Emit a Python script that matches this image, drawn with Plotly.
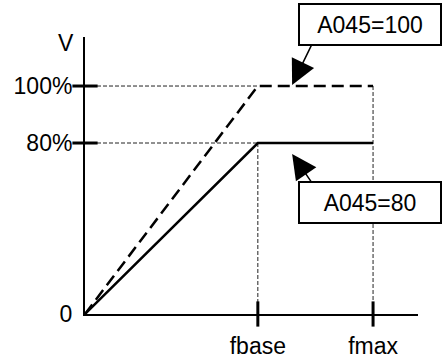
import plotly.graph_objects as go

# ---- data (schematic V/f characteristic) ----
f_positions = [0, 60, 100]            # origin, fbase, fmax (x units)
f_tick_vals = [60, 100]
f_tick_text = ["fbase", "fmax"]
v_tick_vals = [0, 75, 100]            # vertical position of levels
v_tick_text = ["0", "80%", "100%"]
v_100 = [0, 100, 100]                 # A045=100 curve
v_80 = [0, 75, 75]                    # A045=80 curve
x_axis_end = 115.6
y_axis_end = 121.5

# callouts: label, box centre, arrow tail, arrow tip
callout_text = ["A045=100", "A045=80"]
callout_box_x = [99, 99]
callout_box_y = [127.2, 49.1]
callout_tail_x = [78.8, 78.8]
callout_tail_y = [118.4, 57.5]
callout_tip_x = [71.9, 71.9]
callout_tip_y = [100.5, 70.2]

FONT = "Liberation Sans, Arial, sans-serif"
FS = 23

f0, fb, fm = f_positions
v_lo, v_hi = v_80[1], v_100[1]

fig = go.Figure()

# thin dashed guide lines
gx = [f0, fb, None, f0, fb, None, fb, fb, None, fm, fm]
gy = [v_hi, v_hi, None, v_lo, v_lo, None, v_lo, 0, None, v_hi, 0]
fig.add_trace(go.Scatter(x=gx, y=gy, mode="lines",
                         line=dict(color="#222", width=1, dash="4px,2px"),
                         hoverinfo="skip", cliponaxis=False))

# curves
fig.add_trace(go.Scatter(x=f_positions, y=v_100, mode="lines",
                         line=dict(color="black", width=2.5, dash="12px,6px"),
                         cliponaxis=False))
fig.add_trace(go.Scatter(x=f_positions, y=v_80, mode="lines",
                         line=dict(color="black", width=2.5),
                         cliponaxis=False))

# tick marks crossing the axes
fig.add_trace(go.Scatter(x=f_tick_vals, y=[0] * len(f_tick_vals), mode="markers",
                         marker=dict(symbol="line-ns", size=18,
                                     line=dict(color="black", width=3)),
                         cliponaxis=False))
fig.add_trace(go.Scatter(x=[0] * (len(v_tick_vals) - 1), y=v_tick_vals[1:], mode="markers",
                         marker=dict(symbol="line-ew", size=18,
                                     line=dict(color="black", width=3)),
                         cliponaxis=False))

annotations = []
# V axis label
annotations.append(dict(x=0, y=1, xref="paper", yref="paper", text="V",
                        showarrow=False, xanchor="right", yanchor="middle",
                        xshift=-9, yshift=-6,
                        font=dict(family=FONT, size=FS, color="black")))
# arrows
for tx, ty, hx, hy in zip(callout_tail_x, callout_tail_y, callout_tip_x, callout_tip_y):
    annotations.append(dict(x=hx, y=hy, xref="x", yref="y",
                            ax=tx, ay=ty, axref="x", ayref="y", text="",
                            showarrow=True, arrowhead=2, arrowsize=3.3,
                            arrowwidth=1.5, arrowcolor="black", standoff=0))
# boxes (paper coordinates derived from the data scale so they are never hidden)
for t, bx, by in zip(callout_text, callout_box_x, callout_box_y):
    annotations.append(dict(x=bx / x_axis_end, y=by / y_axis_end,
                            xref="paper", yref="paper", text=t,
                            showarrow=False, xanchor="center", yanchor="middle",
                            width=138, height=37, borderpad=1,
                            bordercolor="black", borderwidth=2, bgcolor="white",
                            font=dict(family=FONT, size=FS, color="black")))

fig.update_layout(
    width=443, height=358, autosize=False,
    margin=dict(l=85, r=25, t=37, b=44, pad=0, autoexpand=False),
    paper_bgcolor="white", plot_bgcolor="white",
    showlegend=False,
    annotations=annotations,
    xaxis=dict(range=[0, x_axis_end], showline=True, linecolor="black", linewidth=2,
               showgrid=False, zeroline=False, ticks="outside", ticklen=10,
               tickcolor="rgba(0,0,0,0)", automargin=False,
               tickvals=f_tick_vals, ticktext=f_tick_text,
               tickfont=dict(family=FONT, size=FS, color="black"), fixedrange=True),
    yaxis=dict(range=[0, y_axis_end], showline=True, linecolor="black", linewidth=2,
               showgrid=False, zeroline=False, ticks="outside", ticklen=6,
               tickcolor="rgba(0,0,0,0)", automargin=False,
               tickvals=v_tick_vals, ticktext=v_tick_text,
               tickfont=dict(family=FONT, size=FS, color="black"), fixedrange=True),
)

fig.write_html("out.html",
               config={"displayModeBar": False, "staticPlot": True},
               post_script="document.body.style.margin='0';document.body.style.overflow='hidden';")
